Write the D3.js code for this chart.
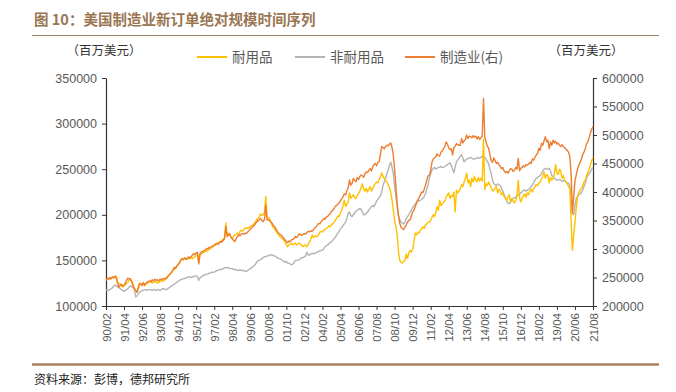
<!DOCTYPE html>
<html>
<head>
<meta charset="utf-8">
<script src="https://cdn.jsdelivr.net/npm/d3@7/dist/d3.min.js"></script>
<style>
  html, body { margin: 0; padding: 0; background: #fff; }
  svg text { font-family: "Liberation Sans", Arial, sans-serif; }
  .cjk { font-family: "Noto Sans CJK SC", sans-serif; }
</style>
</head>
<body>
<div id="chart"></div>
<script>
// monthly values, thousand of million USD, 1990/02 .. 2021/08
const durable = [
  128,130,129,131,130,132,131,133,130,126,125,
  124,122,121,122,123,125,126,128,129,127,124,120,
  117,115,119,123,124,125,124,122,124,125,126,127,
  126,125,127,126,127,125,126,127,128,127,128,129,
  130,132,134,135,137,139,140,142,144,146,147,150,
  152,151,153,152,151,152,153,154,152,153,154,155,
  156,148,156,157,158,159,160,160,161,162,163,164,
  165,166,167,168,169,170,171,172,173,175,191,178,
  180,178,176,174,176,178,179,180,178,182,183,182,
  184,185,186,185,186,187,188,189,190,192,195,196,
  198,201,199,200,203,220,198,197,196,192,188,186,
  184,182,180,178,176,175,174,172,170,167,165,167,
  168,169,167,168,169,167,168,169,168,166,165,167,
  166,165,168,170,173,178,175,176,177,176,178,181,
  182,181,183,184,185,186,188,187,189,190,192,194,
  196,199,198,202,205,210,216,209,212,214,224,218,
  220,222,219,218,221,223,226,230,234,228,226,229,
  225,228,231,226,229,232,234,236,235,239,241,246,
  242,240,238,236,233,230,225,216,205,194,187,178,
  160,150,148,147,149,150,157,152,158,161,159,162,
  170,180,178,181,180,183,185,187,185,189,190,192,
  192,194,197,200,198,203,209,205,216,210,212,214,
  215,219,222,224,218,221,220,225,203,227,224,226,
  229,233,231,236,240,246,235,238,231,240,236,242,
  238,236,241,237,240,237,283,228,234,232,236,233,
  230,226,227,229,231,224,228,226,222,224,220,218,
  216,219,222,214,218,215,213,216,220,238,219,214,
  218,221,223,219,224,222,226,228,225,229,231,233,
  232,235,236,239,242,247,240,244,243,235,241,238,
  240,244,255,246,244,250,248,240,243,238,236,234,
  231,229,194,161,178,191,208,220,224,227,229,231,
  236,238,243,246,250,255,259,263
];

const nondurable = [
  117,118,117,118,119,120,122,123,122,121,120,
  119,118,117,116,117,118,119,121,122,121,120,119,
  110,111,113,115,116,117,117,118,118,117,118,118,
  118,117,118,118,117,118,118,117,118,119,119,118,
  118,119,120,121,122,123,124,125,126,127,128,129,
  129,130,130,131,131,132,132,131,132,132,133,133,
  132,128,131,132,133,134,134,135,135,136,136,137,
  137,137,138,139,139,140,140,140,141,142,142,142,
  142,141,141,141,140,140,140,139,139,140,139,139,
  139,138,138,139,140,141,142,143,144,146,148,150,
  150,151,152,153,154,154,155,155,156,156,156,155,
  155,154,153,152,152,151,150,149,148,149,147,147,
  146,145,146,148,150,150,150,151,152,153,153,154,
  155,159,156,156,157,158,157,158,158,159,160,160,
  161,161,163,165,166,167,168,170,170,172,174,175,
  178,180,182,185,186,188,190,192,196,202,203,199,
  198,200,202,204,205,206,207,206,203,200,200,202,
  203,205,207,209,210,209,212,215,217,219,221,225,
  232,236,240,245,249,254,258,252,245,232,220,208,
  198,195,192,191,190,192,196,198,200,203,205,208,
  210,212,214,216,215,216,217,218,220,223,228,233,
  240,245,249,251,252,250,251,252,252,253,252,252,
  253,254,255,256,257,254,250,246,252,258,260,262,
  264,266,262,258,260,261,262,262,263,262,261,261,
  262,262,263,262,263,264,264,263,261,258,256,250,
  245,238,234,233,232,234,233,232,229,226,222,219,
  215,213,212,214,216,218,219,219,221,222,223,224,
  225,227,227,226,227,228,229,231,233,235,238,240,
  241,242,243,245,248,250,251,250,250,251,248,243,
  242,240,239,238,238,239,238,237,237,238,236,235,
  235,231,220,202,200,210,218,220,222,223,224,227,
  231,235,240,243,245,247,250,252
];

const manufacturing = [
  246,249,247,250,248,251,249,252,251,240,233,
  236,238,235,237,240,245,249,247,248,242,236,230,
  228,224,232,240,238,236,241,237,240,242,243,244,
  243,246,244,247,245,246,244,247,246,248,247,249,
  249,252,255,257,260,263,268,266,270,272,276,280,
  283,281,284,282,284,286,283,287,289,292,290,293,
  294,274,292,295,296,297,298,301,300,303,302,305,
  305,307,309,310,308,311,313,312,315,318,339,322,
  324,327,320,318,315,313,318,322,325,323,326,327,
  326,328,327,330,332,335,337,339,341,345,347,350,
  351,354,350,348,352,377,351,352,349,347,345,341,
  339,335,331,328,326,324,322,318,316,313,311,314,
  313,316,317,318,322,320,323,327,325,324,326,327,
  326,329,331,330,332,331,334,337,339,342,345,344,
  348,350,354,352,356,357,360,362,366,368,371,375,
  376,379,381,385,388,392,397,395,402,408,421,412,
  415,424,420,418,425,422,427,430,428,426,432,435,
  434,438,441,437,444,448,450,446,452,453,466,480,
  478,476,480,482,481,484,486,478,465,440,410,380,
  360,345,338,336,334,338,342,347,350,351,358,365,
  368,374,380,386,390,395,400,399,405,412,421,428,
  430,438,452,458,460,462,467,464,463,470,472,476,
  480,488,484,478,474,476,465,478,480,485,483,482,
  482,494,486,490,492,500,494,498,497,495,499,496,
  498,493,497,492,496,497,564,497,488,480,477,465,
  455,452,460,455,450,452,448,445,441,443,437,434,
  436,433,437,441,440,436,438,443,440,459,437,442,
  443,446,444,448,447,449,452,450,458,456,461,465,
  468,477,473,485,482,490,497,488,491,476,488,482,
  491,486,489,484,486,482,480,483,479,478,475,473,
  470,462,433,363,390,420,430,440,447,452,458,465,
  470,476,485,488,495,503,510,515
];

const xLabels = [
  '90/02','91/04','92/06','93/08','94/10','95/12','97/02','98/04','99/06','00/08',
  '01/10','02/12','04/02','05/04','06/06','07/08','08/10','09/12','11/02','12/04',
  '13/06','14/08','15/10','16/12','18/02','19/04','20/06','21/08'
];
const leftTicks = [100000, 150000, 200000, 250000, 300000, 350000];
const rightTicks = [200000, 250000, 300000, 350000, 400000, 450000, 500000, 550000, 600000];

const series = [
  {name: '耐用品', values: durable, color: '#FFC000', axis: 'left'},
  {name: '非耐用品', values: nondurable, color: '#B4B4B4', axis: 'left'},
  {name: '制造业(右)', values: manufacturing, color: '#ED7D31', axis: 'right'},
];

const W = 676;
const H = 392;
const margin = {top: 78, right: 83, bottom: 86, left: 106};
const brown = '#A6825F';

const svg = d3.select('#chart').append('svg')
  .attr('width', W)
  .attr('height', H);

// header
svg.append('text')
  .attr('class', 'cjk')
  .attr('x', 34)
  .attr('y', 25)
  .attr('fill', '#9A7552')
  .attr('font-size', 14.5)
  .attr('font-weight', 'bold')
  .text('图 10：美国制造业新订单绝对规模时间序列');

svg.append('line')
  .attr('x1', 32).attr('x2', 659)
  .attr('y1', 35.5).attr('y2', 35.5)
  .attr('stroke', brown).attr('stroke-width', 1.2);

svg.append('line')
  .attr('x1', 32).attr('x2', 659)
  .attr('y1', 364.5).attr('y2', 364.5)
  .attr('stroke', brown).attr('stroke-width', 2.4);

svg.append('text')
  .attr('class', 'cjk')
  .attr('x', 34)
  .attr('y', 384)
  .attr('fill', '#222')
  .attr('font-size', 12)
  .text('资料来源：彭博，德邦研究所');

// unit labels
svg.append('text').attr('class', 'cjk')
  .attr('x', 104).attr('y', 55)
  .attr('text-anchor', 'middle')
  .attr('font-size', 12.5).attr('fill', '#333')
  .text('（百万美元）');
svg.append('text').attr('class', 'cjk')
  .attr('x', 586).attr('y', 55)
  .attr('text-anchor', 'middle')
  .attr('font-size', 12.5).attr('fill', '#333')
  .text('（百万美元）');

// scales
const innerW = W - margin.left - margin.right;
const innerH = H - margin.top - margin.bottom;

const x = d3.scaleLinear().domain([0, durable.length - 1]).range([margin.left, margin.left + innerW]);
const yL = d3.scaleLinear().domain([100000, 350000]).range([margin.top + innerH, margin.top]);
const yR = d3.scaleLinear().domain([200000, 600000]).range([margin.top + innerH, margin.top]);

const tickIdx = xLabels.map((d, i) => i * 14);

const styleAxis = g => {
  g.select('.domain').attr('stroke', '#333').attr('stroke-width', 1.2);
  g.selectAll('.tick line').attr('stroke', '#333');
  g.selectAll('.tick text').attr('fill', '#595959')
    .attr('font-family', '"Liberation Sans", Arial, sans-serif');
};

svg.append('g')
  .attr('transform', `translate(${margin.left},0)`)
  .call(d3.axisLeft(yL).tickValues(leftTicks).tickFormat(d3.format('d')).tickSize(4).tickSizeOuter(0).tickPadding(5))
  .attr('font-size', 12.5)
  .call(styleAxis);

svg.append('g')
  .attr('transform', `translate(${margin.left + innerW},0)`)
  .call(d3.axisRight(yR).tickValues(rightTicks).tickFormat(d3.format('d')).tickSize(4).tickSizeOuter(0).tickPadding(5))
  .attr('font-size', 12.5)
  .call(styleAxis);

const xAxis = svg.append('g')
  .attr('transform', `translate(0,${margin.top + innerH})`)
  .call(d3.axisBottom(x).tickValues(tickIdx).tickFormat((d, i) => xLabels[i]).tickSize(4).tickSizeOuter(0))
  .attr('font-size', 11.5)
  .call(styleAxis);

xAxis.selectAll('.tick text')
  .attr('transform', 'rotate(-90)')
  .attr('text-anchor', 'end')
  .attr('x', -7)
  .attr('y', 0)
  .attr('dy', '0.35em');

// lines, drawn non-durable first, then durable, then total on top
const drawOrder = [series[1], series[0], series[2]];
drawOrder.forEach(s => {
  const yScale = s.axis === 'left' ? yL : yR;
  const line = d3.line()
    .x((d, i) => x(i))
    .y(d => yScale(d * 1000));
  svg.append('path')
    .datum(s.values)
    .attr('fill', 'none')
    .attr('stroke', s.color)
    .attr('stroke-width', 1.4)
    .attr('stroke-linejoin', 'round')
    .attr('d', line);
});

// legend
const legendPos = [197, 295, 405];
const legend = svg.append('g');
series.forEach((s, i) => {
  const lx = legendPos[i];
  legend.append('line')
    .attr('x1', lx).attr('x2', lx + 30)
    .attr('y1', 57).attr('y2', 57)
    .attr('stroke', s.color).attr('stroke-width', 2);
  legend.append('text')
    .attr('class', 'cjk')
    .attr('x', lx + 35).attr('y', 62)
    .attr('font-size', 13.5).attr('fill', '#595959')
    .text(s.name);
});
</script>
</body>
</html>
